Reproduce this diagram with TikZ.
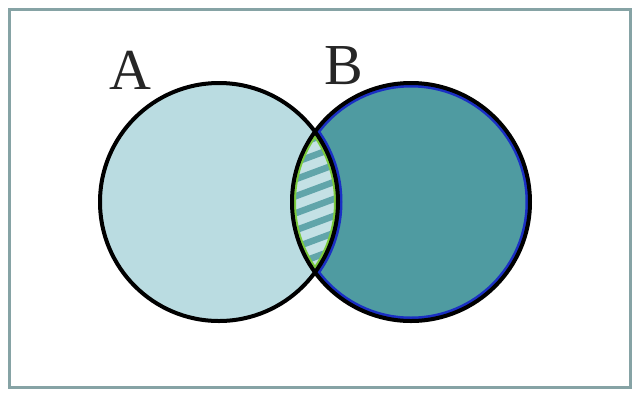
\documentclass[tikz,border=0pt]{standalone}
\usepackage{fontspec}
\setmainfont{Liberation Serif}
\usepackage{tikz}
\usetikzlibrary{positioning}

\definecolor{lightA}{HTML}{BADCE1}
\definecolor{tealB}{HTML}{4F9BA1}
\definecolor{frameC}{HTML}{86A3A5}
\definecolor{lensG}{HTML}{7CCB3C}
\definecolor{edgeB}{HTML}{1A2FC4}

\begin{document}
\begin{tikzpicture}[
  x=1pt, y=-1pt,
  frame/.style={draw=frameC, line width=3pt},
  setA/.style={fill=lightA},
  setB/.style={fill=tealB},
  rim/.style={draw=black, line width=4pt},
  label/.style={font=\fontsize{58}{60}\selectfont, inner sep=0pt, text=black!85},
  stripe/.style={draw=tealB!90, line width=6.5pt},
]
\useasboundingbox (0,0) rectangle (633,392);

\draw[frame] (9,9) rectangle (630,387);

\coordinate (ca) at (219,202);
\coordinate (cb) at (411,202);

\fill[setA] (ca) circle[radius=119];
\fill[setB] (cb) circle[radius=119];

% blue inner edge of B
\begin{scope}
  \clip (cb) circle[radius=119];
  \draw[edgeB, line width=9pt] (ca) circle[radius=119];
  \draw[edgeB, line width=9pt] (cb) circle[radius=119];
\end{scope}

% hatched overlap
\begin{scope}
  \clip (ca) circle[radius=119];
  \clip (cb) circle[radius=119];
  \fill[lightA!85!white] (280,120) rectangle (350,290);
  \foreach \y in {120,137,...,300}
    \draw[stripe] (280,\y+14) -- (350,\y-12);
  \draw[lensG, line width=8pt] (ca) circle[radius=119];
  \draw[lensG, line width=8pt] (cb) circle[radius=119];
\end{scope}

\draw[rim] (ca) circle[radius=119];
\draw[rim] (cb) circle[radius=119];

\node[label] (labA) at (130,70) {A};
\node[label] (labB) at (344,66) {B};
\end{tikzpicture}
\end{document}
